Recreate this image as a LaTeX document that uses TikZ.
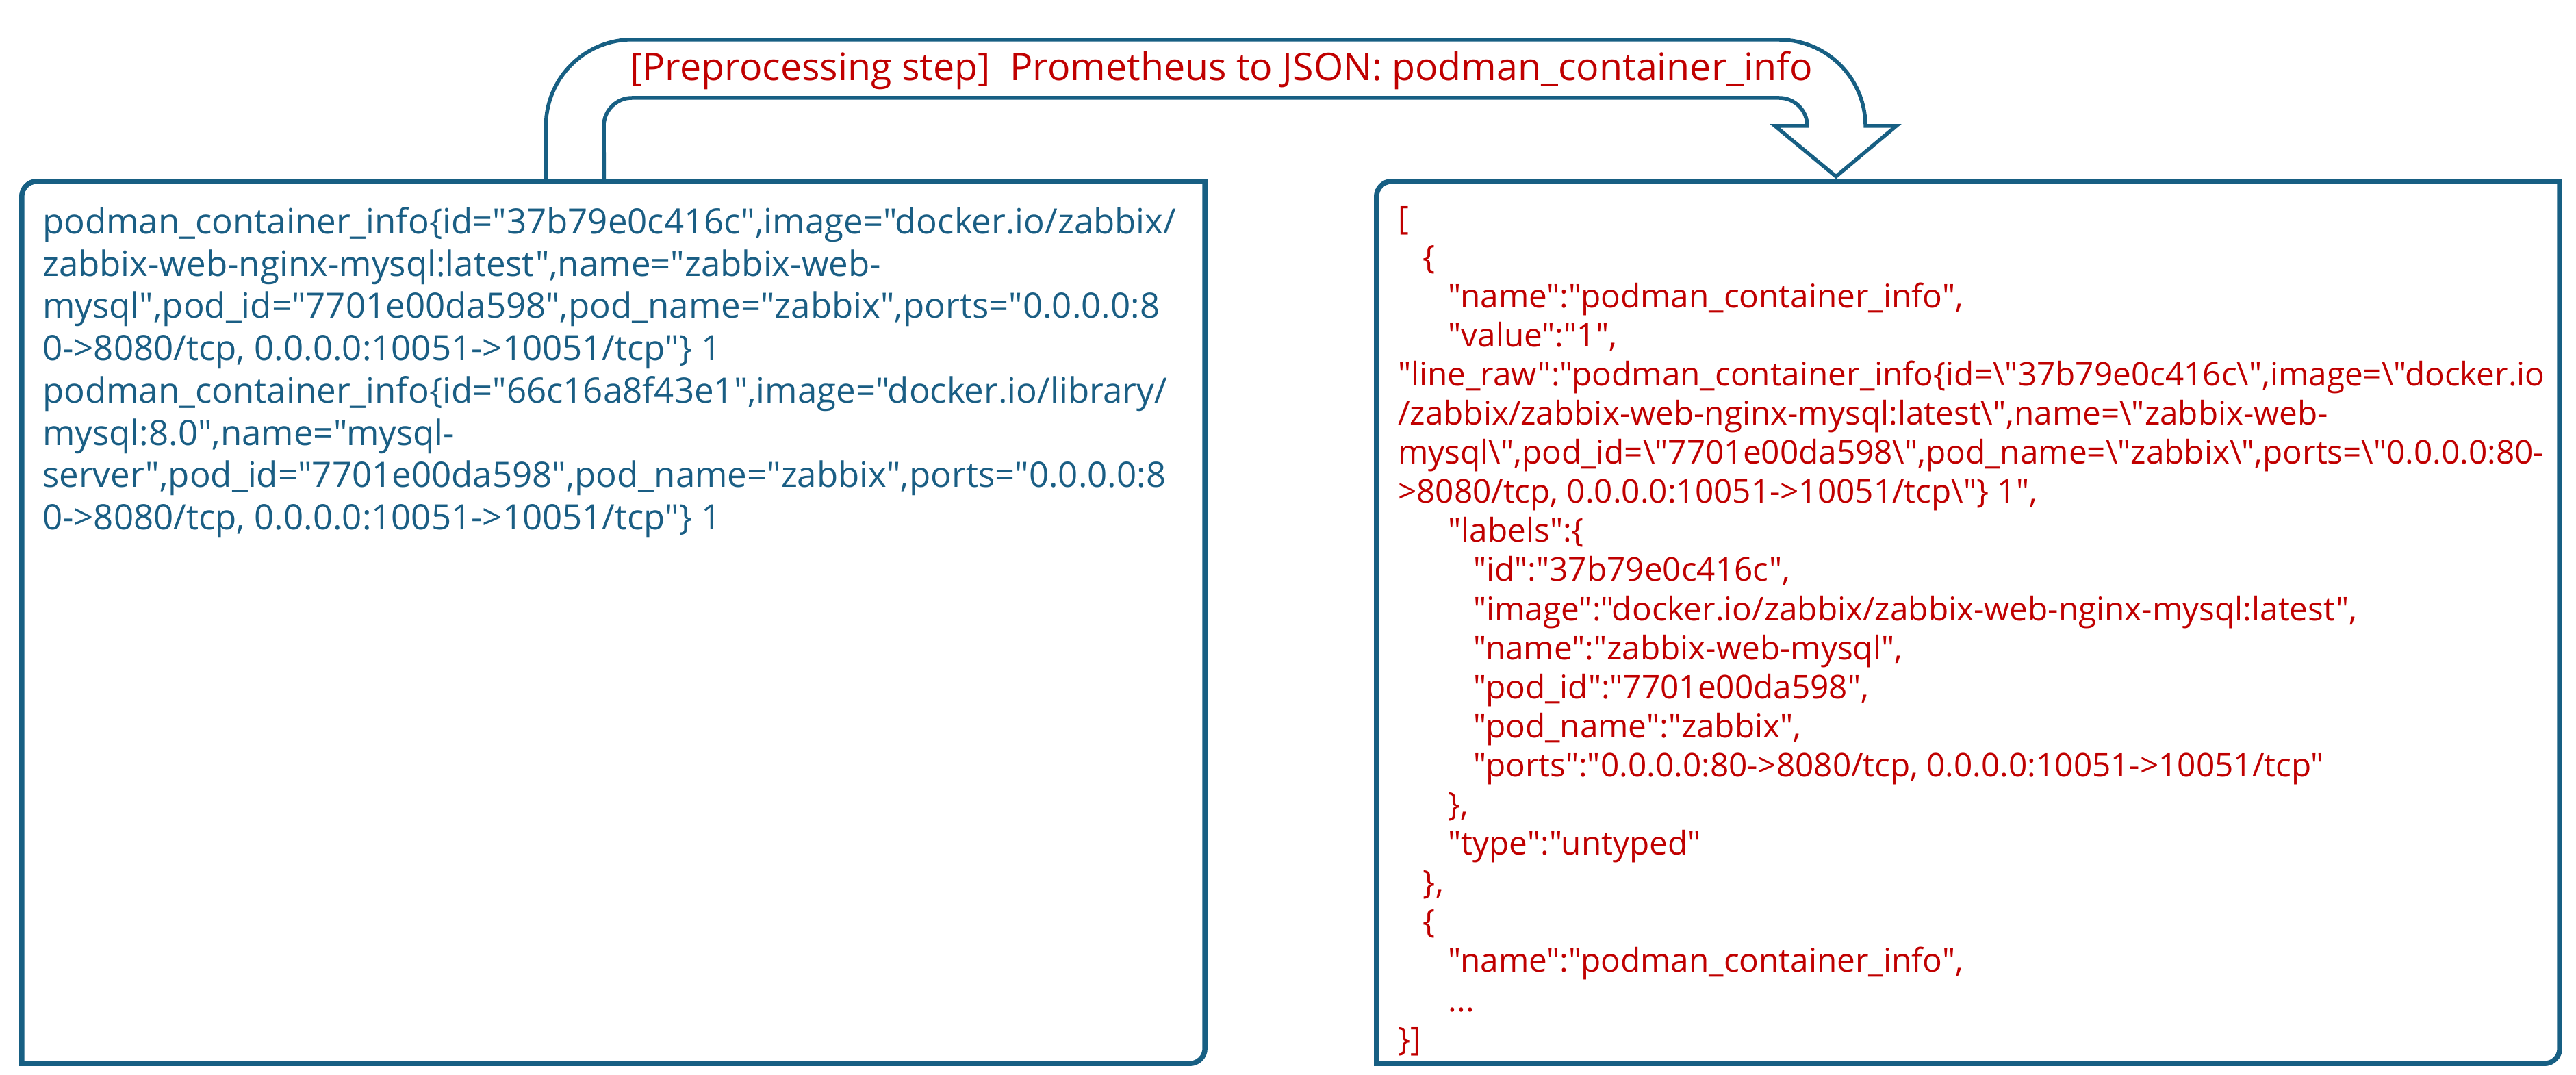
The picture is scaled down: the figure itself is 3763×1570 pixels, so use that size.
\documentclass[tikz,border=0pt]{standalone}
\font\lfont="Open Sans" at 51pt
\font\rfont="Open Sans" at 47.7pt
\font\tfont="Open Sans" at 55.5pt
\definecolor{lineblue}{HTML}{175F83}
\definecolor{txtblue}{HTML}{1A5E84}
\definecolor{txtred}{HTML}{C00000}
\newcommand\mybs{\textbackslash}
\newcommand\lline[2]{\node[ltext] (L#1) at (62,{-341.5-(#1-1)*61.7}) {#2};}
\newcommand\rline[3]{\node[rtext] (R#1) at ({2042+#2*36.7},{-335-(#1-1)*57.1}) {#3};}
\begin{document}
\begin{tikzpicture}[x=1pt,y=1pt,
  boxline/.style={draw=lineblue,line width=7.5pt,line join=miter},
  arrowline/.style={draw=lineblue,line width=5.5pt,fill=white,line join=miter},
  ltext/.style={anchor=base west,inner sep=0pt,text=txtblue,font=\lfont},
  rtext/.style={anchor=base west,inner sep=0pt,text=txtred,font=\rfont},
  titletext/.style={anchor=base west,inner sep=0pt,text=txtred,font=\tfont}]
\useasboundingbox (0,0) rectangle (3763,-1570);
\fill[white] (0,0) rectangle (3763,-1570);

% box placeholders
\node[minimum width=1728pt,minimum height=1288pt,inner sep=0pt] (leftbox) at (896,-909) {};
\node[minimum width=1728pt,minimum height=1288pt,inner sep=0pt] (rightbox) at (2875,-909) {};
\coordinate (aS) at ([xshift=-56pt]leftbox.north);
\coordinate (aE) at ([xshift=-193pt]rightbox.north);

% block arrow
\filldraw[arrowline] ([xshift=-42.5pt]aS) -- ++(0,81) arc[start angle=180,end angle=90,radius=126]
  -- (2599,-58) arc[start angle=90,end angle=0,radius=126]
  -- (2770,-184) -- ([yshift=7pt]aE) -- (2593,-184) -- (2640,-184)
  arc[start angle=0,end angle=90,radius=41]
  -- (923,-143) arc[start angle=90,end angle=180,radius=41]
  -- ([xshift=42.5pt]aS);

\node[titletext] (title) at (920,-118) {[Preprocessing step]\ \ Prometheus to JSON: podman\_container\_info};

% boxes
\draw[boxline] (leftbox.south west) -- ([yshift=-22pt]leftbox.north west)
  arc[start angle=180,end angle=90,radius=22] -- (leftbox.north east)
  -- ([yshift=22pt]leftbox.south east) arc[start angle=0,end angle=-90,radius=22] -- cycle;
\draw[boxline] (rightbox.south west) -- ([yshift=-22pt]rightbox.north west)
  arc[start angle=180,end angle=90,radius=22] -- (rightbox.north east)
  -- ([yshift=22pt]rightbox.south east) arc[start angle=0,end angle=-90,radius=22] -- cycle;

% left text
\lline{1}{podman\_container\_info\{id="37b79e0c416c",image="docker.io/zabbix/}
\lline{2}{zabbix-web-nginx-mysql:latest",name="zabbix-web-}
\lline{3}{mysql",pod\_id="7701e00da598",pod\_name="zabbix",ports="0.0.0.0:8}
\lline{4}{0->8080/tcp, 0.0.0.0:10051->10051/tcp"\} 1}
\lline{5}{podman\_container\_info\{id="66c16a8f43e1",image="docker.io/library/}
\lline{6}{mysql:8.0",name="mysql-}
\lline{7}{server",pod\_id="7701e00da598",pod\_name="zabbix",ports="0.0.0.0:8}
\lline{8}{0->8080/tcp, 0.0.0.0:10051->10051/tcp"\} 1}

% right text
\rline{1}{0}{[}
\rline{2}{1}{\{}
\rline{3}{2}{"name":"podman\_container\_info",}
\rline{4}{2}{"value":"1",}
\rline{5}{0}{"line\_raw":"podman\_container\_info\{id=\mybs"37b79e0c416c\mybs",image=\mybs"docker.io}
\rline{6}{0}{/zabbix/zabbix-web-nginx-mysql:latest\mybs",name=\mybs"zabbix-web-}
\rline{7}{0}{mysql\mybs",pod\_id=\mybs"7701e00da598\mybs",pod\_name=\mybs"zabbix\mybs",ports=\mybs"0.0.0.0:80-}
\rline{8}{0}{>8080/tcp, 0.0.0.0:10051->10051/tcp\mybs"\} 1",}
\rline{9}{2}{"labels":\{}
\rline{10}{3}{"id":"37b79e0c416c",}
\rline{11}{3}{"image":"docker.io/zabbix/zabbix-web-nginx-mysql:latest",}
\rline{12}{3}{"name":"zabbix-web-mysql",}
\rline{13}{3}{"pod\_id":"7701e00da598",}
\rline{14}{3}{"pod\_name":"zabbix",}
\rline{15}{3}{"ports":"0.0.0.0:80->8080/tcp, 0.0.0.0:10051->10051/tcp"}
\rline{16}{2}{\},}
\rline{17}{2}{"type":"untyped"}
\rline{18}{1}{\},}
\rline{19}{1}{\{}
\rline{20}{2}{"name":"podman\_container\_info",}
\rline{21}{2}{...}
\rline{22}{0}{\}]}
\end{tikzpicture}
\end{document}
